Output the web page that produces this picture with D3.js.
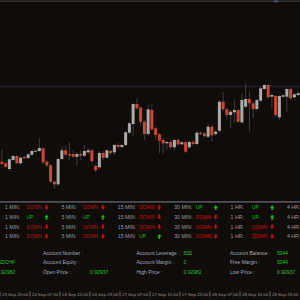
<!DOCTYPE html>
<html>
<head>
<meta charset="utf-8">
<script src="https://cdn.jsdelivr.net/npm/d3@7"></script>
<style>
  body { margin: 0; background: #0f0c0a; }
  svg { display: block; font-family: "Liberation Sans", Arial, sans-serif; }
</style>
</head>
<body>
<div id="chart"></div>
<script>
// hourly candles, USDCHF
var opens = [0.98283, 0.98267, 0.98210, 0.98300, 0.98340, 0.98267, 0.98330, 0.98320, 0.98353, 0.98383,
  0.98390, 0.98417, 0.98283, 0.98247, 0.98083, 0.98057, 0.98310, 0.98397, 0.98360, 0.98360,
  0.98333, 0.98360, 0.98343, 0.98377, 0.98397, 0.98240, 0.98227, 0.98370, 0.98323, 0.98390,
  0.98377, 0.98450, 0.98430, 0.98450, 0.98573, 0.98660, 0.98860, 0.98823, 0.98683, 0.98560,
  0.98800, 0.98617, 0.98557, 0.98500, 0.98467, 0.98480, 0.98427, 0.98500, 0.98457, 0.98477,
  0.98427, 0.98480, 0.98460, 0.98573, 0.98567, 0.98533, 0.98633, 0.98560, 0.98593, 0.98883,
  0.98807, 0.98750, 0.98777, 0.98800, 0.98677, 0.98833, 0.98910, 0.98867, 0.98810, 0.98893,
  0.99010, 0.99050, 0.98933, 0.98940, 0.98727, 0.98933, 0.98933, 0.99010, 0.98927, 0.98950];
var highs = [0.98407, 0.98280, 0.98320, 0.98350, 0.98350, 0.98335, 0.98340, 0.98370, 0.98400, 0.98405,
  0.98517, 0.98430, 0.98300, 0.98260, 0.98100, 0.98320, 0.98430, 0.98440, 0.98480, 0.98400,
  0.98380, 0.98390, 0.98450, 0.98420, 0.98410, 0.98260, 0.98390, 0.98390, 0.98410, 0.98400,
  0.98460, 0.98470, 0.98460, 0.98590, 0.98680, 0.98870, 0.98917, 0.98840, 0.98700, 0.98850,
  0.98860, 0.98630, 0.98570, 0.98520, 0.98490, 0.98500, 0.98510, 0.98520, 0.98490, 0.98490,
  0.98500, 0.98500, 0.98590, 0.98590, 0.98580, 0.98660, 0.98650, 0.98600, 0.98900, 0.98980,
  0.98820, 0.98800, 0.98900, 0.98810, 0.98967, 0.99067, 0.98983, 0.98880, 0.98910, 0.99030,
  0.99055, 0.99055, 0.98970, 0.98950, 0.98950, 0.98960, 0.99020, 0.99020, 0.98970, 0.98980];
var lows = [0.98250, 0.98220, 0.98190, 0.98290, 0.98260, 0.98250, 0.98310, 0.98310, 0.98340, 0.98375,
  0.98380, 0.98260, 0.98230, 0.98070, 0.98013, 0.98040, 0.98300, 0.98340, 0.98300, 0.98320,
  0.98250, 0.98300, 0.98330, 0.98360, 0.98270, 0.98180, 0.98210, 0.98300, 0.98310, 0.98350,
  0.98350, 0.98410, 0.98420, 0.98440, 0.98560, 0.98533, 0.98800, 0.98640, 0.98500, 0.98540,
  0.98590, 0.98500, 0.98367, 0.98360, 0.98400, 0.98410, 0.98400, 0.98440, 0.98450, 0.98370,
  0.98410, 0.98440, 0.98440, 0.98550, 0.98520, 0.98520, 0.98480, 0.98540, 0.98580, 0.98790,
  0.98710, 0.98620, 0.98670, 0.98670, 0.98660, 0.98820, 0.98583, 0.98720, 0.98790, 0.98880,
  0.99000, 0.98910, 0.98820, 0.98730, 0.98700, 0.98920, 0.98783, 0.98900, 0.98910, 0.98940];
var closes = [0.98260, 0.98233, 0.98307, 0.98340, 0.98267, 0.98323, 0.98317, 0.98357, 0.98390, 0.98393,
  0.98420, 0.98277, 0.98247, 0.98083, 0.98057, 0.98310, 0.98397, 0.98353, 0.98347, 0.98333,
  0.98360, 0.98343, 0.98390, 0.98397, 0.98290, 0.98197, 0.98370, 0.98323, 0.98397, 0.98370,
  0.98450, 0.98430, 0.98450, 0.98577, 0.98667, 0.98860, 0.98817, 0.98683, 0.98560, 0.98807,
  0.98607, 0.98550, 0.98493, 0.98467, 0.98480, 0.98427, 0.98500, 0.98457, 0.98477, 0.98383,
  0.98480, 0.98460, 0.98573, 0.98560, 0.98540, 0.98633, 0.98547, 0.98583, 0.98883, 0.98807,
  0.98750, 0.98783, 0.98800, 0.98683, 0.98900, 0.98910, 0.98867, 0.98810, 0.98900, 0.99017,
  0.99050, 0.98927, 0.98950, 0.98750, 0.98940, 0.98947, 0.99010, 0.98917, 0.98957, 0.98967];
var levelPrice = 0.99035;

var timeLabels = ["23 Sep 23:00", "24 Sep 07:00", "24 Sep 15:00", "24 Sep 23:00", "27 Sep 07:00",
  "27 Sep 15:00", "27 Sep 23:00", "28 Sep 07:00", "28 Sep 15:00", "28 Sep 23:00"];

var periods = ["1 MIN:", "5 MIN:", "15 MIN:", "30 MIN:", "1 HR:", "4 HR:"];
var signals = [
  ["DOWN", "DOWN", "DOWN", "UP", "UP", "UP"],
  ["UP", "UP", "DOWN", "DOWN", "UP", "UP"],
  ["DOWN", "DOWN", "DOWN", "DOWN", "DOWN", "DOWN"],
  ["DOWN", "DOWN", "UP", "DOWN", "DOWN", "DOWN"]
];

var symbolInfo = ["USDCHF", "0.92982"];
var accountLabels = [
  ["Account Number :", "Account Equity :", "Open Price :"],
  ["Account Leverage :", "Account Margin :", "High Price :"],
  ["Account Balance :", "Free Margin :", "Low Price :"]
];
var accountValues = [
  ["", "", "0.92937"],
  ["500", "0", "0.92982"],
  ["5044", "5044", "0.92937"]
];

var svgWidth = 300;
var svgHeight = 300;

var svg = d3.select("#chart")
  .append("svg")
  .attr("width", svgWidth)
  .attr("height", svgHeight);

svg.append("rect")
  .attr("width", svgWidth)
  .attr("height", svgHeight)
  .attr("fill", "#0f0c0a");

// top border
svg.append("line")
  .attr("x1", 0).attr("x2", svgWidth)
  .attr("y1", 1.2).attr("y2", 1.2)
  .attr("stroke", "#4d4d4d")
  .attr("stroke-width", 1);

svg.append("path")
  .attr("d", "M273.5,0.5 L278.5,0.5 L276,3 Z")
  .attr("fill", "#3c5a94");

var bars = d3.range(opens.length);

var xScale = d3.scaleBand()
  .domain(bars)
  .range([0, svgWidth])
  .padding(0);

var yScale = d3.scaleLinear()
  .domain([0.99, 0.98])
  .range([90, 190]);

// price level line
svg.append("line")
  .attr("x1", 0).attr("x2", svgWidth)
  .attr("y1", yScale(levelPrice)).attr("y2", yScale(levelPrice))
  .attr("stroke", "#211f30")
  .attr("stroke-width", 1.5);

var bw = xScale.bandwidth();
var bodyW = 3;

var candles = svg.append("g");

candles.selectAll(".wick")
  .data(bars)
  .enter()
  .append("line")
  .attr("class", "wick")
  .attr("x1", d => xScale(d) + bw / 2)
  .attr("x2", d => xScale(d) + bw / 2)
  .attr("y1", d => yScale(highs[d]))
  .attr("y2", d => yScale(lows[d]))
  .attr("stroke", "#4a4a4a")
  .attr("stroke-width", 0.8);

candles.selectAll(".body")
  .data(bars)
  .enter()
  .append("rect")
  .attr("class", "body")
  .attr("x", d => xScale(d) + (bw - bodyW) / 2)
  .attr("y", d => yScale(Math.max(opens[d], closes[d])))
  .attr("width", bodyW)
  .attr("height", d => Math.max(1, Math.abs(yScale(opens[d]) - yScale(closes[d]))))
  .attr("fill", d => closes[d] >= opens[d] ? "#ababab" : "#cf4630");

// separator above the signal table
svg.append("line")
  .attr("x1", 0).attr("x2", svgWidth)
  .attr("y1", 201.8).attr("y2", 201.8)
  .attr("stroke", "#4f4e57")
  .attr("stroke-width", 1.8);

// signal table
var colX = d3.scaleLinear().domain([0, 5]).range([5, 287]);
var rowY = d3.scaleLinear().domain([0, 3]).range([207.5, 236.5]);

function arrowPath(cx, cy, up) {
  var s = up ? -1 : 1;
  var p = d3.path();
  p.moveTo(cx - 0.8, cy - 2.6 * s);
  p.lineTo(cx + 0.8, cy - 2.6 * s);
  p.lineTo(cx + 0.8, cy - 0.2 * s);
  p.lineTo(cx + 2.1, cy - 0.2 * s);
  p.lineTo(cx, cy + 2.4 * s);
  p.lineTo(cx - 2.1, cy - 0.2 * s);
  p.lineTo(cx - 0.8, cy - 0.2 * s);
  p.closePath();
  return p.toString();
}

var table = svg.append("g");

signals.forEach(function(row, r) {
  row.forEach(function(sig, c) {
    var x0 = colX(c);
    var y0 = rowY(r);
    var col = sig === "UP" ? "#10c010" : "#c80d0d";
    table.append("text")
      .attr("x", x0).attr("y", y0 + 1.8)
      .attr("font-size", 5.2)
      .attr("fill", "#8f9aab")
      .text(periods[c]);
    table.append("text")
      .attr("x", x0 + 21.5).attr("y", y0 + 1.8)
      .attr("font-size", 4.8)
      .attr("fill", col)
      .text(sig);
    table.append("path")
      .attr("d", arrowPath(x0 + 41.5, y0, sig === "UP"))
      .attr("fill", col);
  });
});

// account block
var accX = d3.scaleLinear().domain([0, 2]).range([43, 230]);
var accY = d3.scaleLinear().domain([0, 2]).range([252.8, 272]);

var account = svg.append("g");

accountLabels.forEach(function(col, c) {
  col.forEach(function(lbl, r) {
    account.append("text")
      .attr("x", accX(c)).attr("y", accY(r) + 1.8)
      .attr("font-size", 5)
      .attr("fill", "#a4abb8")
      .text(lbl);
    account.append("text")
      .attr("x", accX(c) + 47).attr("y", accY(r) + 1.8)
      .attr("font-size", 5)
      .attr("fill", "#1fc81f")
      .text(accountValues[c][r]);
  });
});

symbolInfo.forEach(function(s, i) {
  account.append("text")
    .attr("x", 15).attr("y", accY(i + 1) + 1.8)
    .attr("text-anchor", "end")
    .attr("font-size", 5)
    .attr("fill", "#1fc81f")
    .text(s);
});

// time axis
var xAxis = d3.axisBottom(xScale)
  .tickValues(d3.range(0, bars.length, 8))
  .tickSize(5)
  .tickFormat((d, i) => timeLabels[i]);

var axisG = svg.append("g")
  .attr("transform", `translate(${-bw / 2},291.5)`)
  .call(xAxis);

axisG.select(".domain").remove();
axisG.selectAll("line").attr("stroke", "#6a6a6a");
axisG.selectAll("text")
  .attr("text-anchor", "start")
  .attr("x", 2)
  .attr("y", 4)
  .attr("dy", 0)
  .attr("font-size", 4.4)
  .attr("font-family", "Liberation Sans, Arial, sans-serif")
  .attr("fill", "#9a9a9a");
</script>
</body>
</html>
